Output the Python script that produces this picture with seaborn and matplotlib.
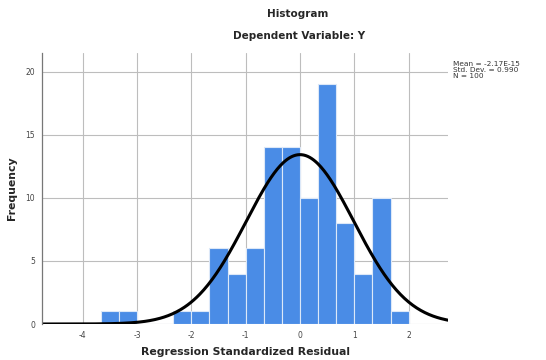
import numpy as np
import pandas as pd
import matplotlib
matplotlib.use("Agg")
import matplotlib.pyplot as plt
import seaborn as sns

# Data
bin_edges = [-11/3, -10/3, -3.0, -8/3, -7/3, -2.0, -5/3, -4/3, -1.0, -2/3, -1/3, 0.0, 1/3, 2/3, 1.0, 4/3, 5/3, 2.0]
counts = [1, 1, 0, 0, 1, 1, 6, 4, 6, 14, 14, 10, 19, 8, 4, 10, 1]
mean_val = -2.17e-15
sd_val = 0.990
n_val = 100
x_ticks = [-4, -3, -2, -1, 0, 1, 2]
y_ticks = [0, 5, 10, 15, 20]

centers = [(a + b) / 2 for a, b in zip(bin_edges[:-1], bin_edges[1:])]
df = pd.DataFrame({"resid": centers, "count": counts})

sns.set_style("white")
plt.rcParams['font.family'] = ['DejaVu Sans']
plt.rcParams['axes.unicode_minus'] = False

fig = plt.figure(figsize=(5.46, 3.6), dpi=100)
ax = fig.add_axes([0.077, 0.10, 0.744, 0.753])

ax.set_xlim(-4.75, 2.73)
ax.set_ylim(0, 21.5)
ax.set_xticks(x_ticks)
ax.set_yticks(y_ticks)
ax.grid(True, color="#bdbdbd", linewidth=0.8)
ax.set_axisbelow(True)

sns.histplot(data=df, x="resid", weights="count", bins=bin_edges, ax=ax,
             color="#4a8ce6", alpha=1.0, edgecolor="#dce8f8", linewidth=0.8)

binw = 1/3
xs = np.linspace(-4.75, 2.73, 400)
pdf = np.exp(-0.5 * ((xs - mean_val) / sd_val) ** 2) / (sd_val * np.sqrt(2 * np.pi))
sns.lineplot(x=xs, y=n_val * binw * pdf, ax=ax, color="black", linewidth=2.2)

for s in ["top", "right", "bottom"]:
    ax.spines[s].set_visible(False)
ax.spines["left"].set_color("#777777")
ax.spines["left"].set_linewidth(0.9)

ax.tick_params(axis="both", length=0, labelsize=5.5, labelcolor="#444444", pad=5)
ax.set_xlabel("Regression Standardized Residual", fontsize=7.8, fontweight="bold", labelpad=5)
ax.set_ylabel("Frequency", fontsize=7.8, fontweight="bold", labelpad=6)

fig.text(0.545, 0.96, "Histogram", ha="center", va="center", fontsize=7.5, fontweight="bold")
fig.text(0.548, 0.90, "Dependent Variable: Y", ha="center", va="center", fontsize=7.5, fontweight="bold")
fig.text(0.829, 0.83, "Mean = -2.17E-15\nStd. Dev. = 0.990\nN = 100", ha="left", va="top",
         fontsize=5.3, color="#333333", linespacing=0.95)

fig.savefig("out.png", dpi=100)
